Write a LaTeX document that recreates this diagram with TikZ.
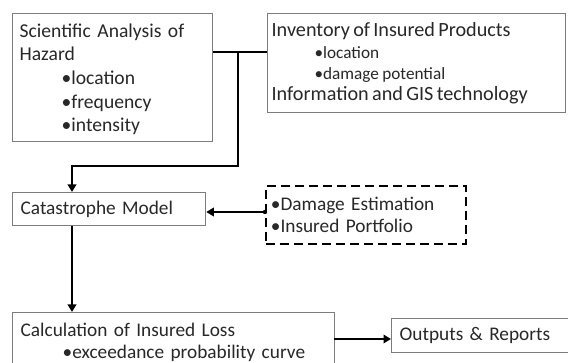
\documentclass[tikz,border=0pt]{standalone}
\usepackage{fontspec}
\setmainfont{Carlito}
\usetikzlibrary{arrows.meta}
\definecolor{boxgray}{RGB}{125,125,125}
\definecolor{textgray}{RGB}{40,40,40}
\begin{document}
\begin{tikzpicture}[x=1pt,y=-1pt,
  box/.style={draw=boxgray, line width=1.3pt, fill=white, rectangle,
    anchor=north west, align=left, inner ysep=0pt, text=textgray},
  dashbox/.style={draw=black, line width=1.8pt, dash pattern=on 9pt off 5pt,
    rectangle, anchor=north west, align=left, inner ysep=0pt, text=textgray},
  conn/.style={draw=black, line width=1.8pt},
  arrow/.style={conn, -{Triangle[length=7.5pt,width=8.5pt]}},
  big/.style={font=\fontsize{19.3}{23.7}\selectfont},
]
\useasboundingbox[fill=white] (0,0) rectangle (568,363);
\newcommand\bul{\textbullet}
\newcommand\sub[1]{\hspace*{42pt}\bul#1}

% hazard analysis
\node[box, font=\fontsize{19.6}{23.7}\selectfont, text width=186pt, inner xsep=7pt, minimum height=128pt] (hazard) at (12,13)
  {\rule{0pt}{17pt}Scientific Analysis of\\ Hazard\\ \sub{location}\\ \sub{frequency}\\ \sub{intensity}};

% inventory of insured products
\node[box, text width=290pt, inner xsep=4pt, minimum height=99pt] (invent) at (267,13)
  {\fontsize{20.2}{21}\selectfont Inventory of Insured Products\\[1pt]
   {\fontsize{17.2}{20.5}\selectfont\hspace*{43pt}\bul location\\ \hspace*{43pt}\bul damage potential}\\[3pt]
   Information and GIS technology};

% catastrophe model
\node[box, big, text width=177pt, inner xsep=8pt, minimum height=33pt] (catmodel) at (12,192)
  {Catastrophe Model};

% damage estimation inputs
\node[dashbox, text width=190pt, inner xsep=5pt, minimum height=58pt,
  font=\fontsize{19.3}{22}\selectfont] (inputs) at (265,185)
  {\bul Damage Estimation\\ \bul Insured Portfolio};

% insured loss
\node[box, text width=306pt, inner xsep=8pt, minimum height=70pt,
  font=\fontsize{19.3}{22}\selectfont] (loss) at (12,312)
  {\rule{0pt}{24pt}Calculation of Insured Loss\\ \sub{exceedance probability curve}\\ \strut};

% outputs
\node[box, big, text width=181pt, inner xsep=8pt, minimum height=34pt] (outputs) at (391,318)
  {Outputs \& Reports};

% connectors
\coordinate (j) at (238,52);
\coordinate (bend) at (72,166);
\coordinate (din) at (265,212);
\coordinate (lo) at (334,339);
\draw[conn] (hazard.east |- j) -- (invent.west |- j);
\draw[arrow] (j) |- (bend) -- (bend |- catmodel.north);
\draw[arrow] (din) -- (catmodel.east |- din);
\fill (din) circle (2.2pt);
\draw[arrow] (bend |- catmodel.south) -- (bend |- loss.north);
\draw[arrow] (lo) -- (outputs.west |- lo);
\end{tikzpicture}
\end{document}
